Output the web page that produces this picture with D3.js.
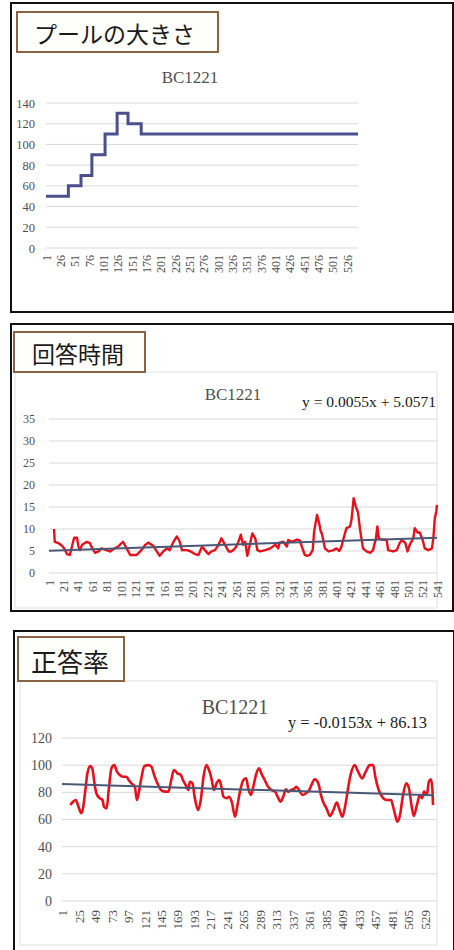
<!DOCTYPE html>
<html><head><meta charset="utf-8">
<script src="https://cdn.jsdelivr.net/npm/d3@7"></script>
<style>body{margin:0;background:#fff}svg{display:block}</style>
</head><body>
<svg id="c" width="454" height="950"></svg>
<script>
// ---------- DATA ----------
// Panel 1: プールの大きさ (step series: index where value starts, value)
const poolStart = [1, 40, 62, 81, 104, 125, 144, 167, 545];
const poolSize  = [50, 60, 70, 90, 110, 130, 120, 110, 110];
const poolXTicks = [1,26,51,76,101,126,151,176,201,226,251,276,301,326,351,376,401,426,451,476,501,526];
const poolYTicks = [0,20,40,60,80,100,120,140];

// Panel 2: 回答時間
const timeIdx = [8,9,14,19,22,26,30,36,40,42,44,47,51,53,58,60,65,70,74,81,86,90,97,104,109,114,123,128,135,139,146,151,155,160,165,169,174,179,183,186,193,197,204,209,214,218,223,227,232,237,241,246,251,255,260,264,268,271,274,277,281,284,288,291,295,302,309,316,320,322,327,332,334,339,346,350,355,357,360,364,368,370,374,377,379,381,385,390,397,401,405,408,411,415,420,422,425,428,431,434,438,443,448,452,456,458,460,464,471,473,480,485,489,492,497,500,503,508,510,514,517,521,524,529,534,536,538,540,541];
const timeVal = [10.0,7.1,6.8,6.2,5.6,4.3,4.1,8.0,8.0,6.0,5.2,6.4,6.8,7.1,6.8,6.0,4.6,4.9,5.6,5.2,4.9,5.4,6.0,7.1,5.6,4.1,4.1,4.9,6.4,6.9,6.2,4.9,3.9,4.9,5.6,5.2,7.0,8.3,7.1,5.2,5.2,5.0,4.3,4.1,6.0,5.2,4.3,4.9,5.2,6.4,7.9,6.4,4.9,4.9,5.6,6.8,8.7,6.4,7.1,3.9,6.8,9.0,7.9,5.2,4.9,5.2,5.6,6.4,5.6,6.9,7.1,6.0,7.5,7.1,7.6,7.4,5.0,4.1,3.9,4.1,5.2,9.4,13.2,11.3,9.6,8.8,5.6,4.9,5.2,5.6,5.0,6.0,7.9,10.2,10.6,12.1,17.0,15.1,13.8,9.8,5.6,4.9,4.6,5.2,7.9,10.6,7.9,7.6,7.5,5.2,4.9,5.2,6.8,7.5,6.8,4.9,6.4,7.9,10.2,9.2,9.2,7.5,5.6,5.2,5.6,8.1,12.5,14.0,15.5];
const timeXTicks = [1,21,41,61,81,101,121,141,161,181,201,221,241,261,281,301,321,341,361,381,401,421,441,461,481,501,521,541];
const timeYTicks = [0,5,10,15,20,25,30,35];
const timeTrend = [0.0055, 5.0571];

// Panel 3: 正答率
const accIdx = [13,17,21,25,29,32,35,38,42,45,49,51,56,60,62,66,69,73,77,81,85,90,95,98,102,107,110,112,116,121,127,131,136,141,145,151,156,160,164,169,174,177,181,185,187,191,194,199,203,207,211,215,219,222,226,230,233,236,241,244,248,253,256,260,265,269,272,276,280,284,288,291,296,301,306,311,316,319,323,327,330,335,340,342,346,351,356,361,364,369,374,378,381,386,391,396,401,405,409,413,417,421,427,432,438,443,449,454,457,462,467,473,480,483,486,489,493,497,502,506,510,513,517,522,525,528,532,535,538,540,541];
const accVal = [70.7,73.1,74.4,69.4,64.6,69.4,81.7,94,99.4,97.7,84.1,79.3,75.6,74.4,69.4,68.2,81.7,97.7,100,95.2,92.8,91.5,91.5,89.1,86.6,84.1,74.4,78,89.1,99.4,100,98.9,91.5,85.4,81.7,80.5,80.5,89.1,96.4,94,92.8,89.1,85.4,81.7,87.8,86.6,76.8,67,74.4,91.5,100,96.4,89.1,81.7,86.6,89.1,84.1,76.8,75.6,76.8,73.1,62.1,69.4,80.5,89.1,90.3,83,78,85.4,94,97.7,94,89.1,84.1,81.7,80.5,75.6,73.1,76.8,82.2,80.5,81.7,83,84.1,81.7,78,79.3,81.7,85.4,89.6,86.6,78,73.1,68.2,62.6,67,72.4,67,62.1,69.4,81.7,92.8,100,95.2,90.3,95.2,100,100,91.5,81.7,76.8,74.4,74.4,69.4,63.3,58.4,63.3,76.8,86.6,83,69.4,62.6,69.4,78,75.6,80.5,78,87.8,89.6,83,70.7];
const accXTicks = [1,25,49,73,97,121,145,169,193,217,241,265,289,313,337,361,385,409,433,457,481,505,529];
const accYTicks = [0,20,40,60,80,100,120];
const accTrend = [-0.0153, 86.13];

// ---------- DRAWING ----------
const svg = d3.select('#c');
const SERIF = '"Liberation Serif","DejaVu Serif",serif';
const CJK = '"Noto Sans CJK JP","Noto Sans CJK SC",sans-serif';
const GRAY = '#505050';

function panel(cfg) {
  const g = svg.append('g');
  g.append('rect').attr('x', cfg.frame[0]).attr('y', cfg.frame[1]).attr('width', cfg.frame[2]).attr('height', cfg.frame[3])
    .attr('fill', 'none').attr('stroke', '#111').attr('stroke-width', 2);
  if (cfg.inner) {
    g.append('rect').attr('x', cfg.inner[0]).attr('y', cfg.inner[1]).attr('width', cfg.inner[2]).attr('height', cfg.inner[3])
      .attr('fill', '#fff').attr('stroke', '#e0e0e0').attr('stroke-width', 1);
  }
  // title box
  g.append('rect').attr('x', cfg.tbox[0]).attr('y', cfg.tbox[1]).attr('width', cfg.tbox[2]).attr('height', cfg.tbox[3])
    .attr('fill', '#fefefc').attr('stroke', '#8a6244').attr('stroke-width', 2);
  g.append('text').attr('x', cfg.tText[0]).attr('y', cfg.tText[1]).attr('dominant-baseline', 'central')
    .attr('font-family', CJK).attr('font-size', cfg.tText[2]).attr('fill', '#1a1a1a').text(cfg.title);
  // chart title
  g.append('text').attr('x', cfg.ct[0]).attr('y', cfg.ct[1]).attr('text-anchor', 'middle').attr('dominant-baseline', 'central')
    .attr('font-family', SERIF).attr('font-size', cfg.ct[2]).attr('fill', GRAY).text('BC1221');

  const x = d3.scaleLinear().domain(cfg.xDomain).range(cfg.xRange);
  const y = d3.scaleLinear().domain([0, d3.max(cfg.yTicks)]).range(cfg.yRange);

  g.append('g').selectAll('line').data(cfg.yTicks).join('line')
    .attr('x1', cfg.gridX[0]).attr('x2', cfg.gridX[1])
    .attr('y1', d => y(d)).attr('y2', d => y(d))
    .attr('stroke', '#d9d9d9').attr('stroke-width', 1);

  const ya = g.append('g').attr('transform', `translate(${cfg.yLabelX},0)`)
    .call(d3.axisLeft(y).tickValues(cfg.yTicks).tickSize(0).tickPadding(0).tickFormat(d3.format('d')));
  ya.select('.domain').remove();
  ya.selectAll('text').attr('font-family', SERIF).attr('font-size', cfg.yFont).attr('fill', GRAY);

  const xa = g.append('g').attr('transform', `translate(0,${cfg.xLabelY})`)
    .call(d3.axisBottom(x).tickValues(cfg.xTicks).tickSize(0).tickPadding(0).tickFormat(d3.format('d')));
  xa.select('.domain').remove();
  xa.selectAll('text').attr('x', 0).attr('y', 0).attr('dy', '0.35em')
    .attr('transform', 'rotate(-90)').attr('text-anchor', 'end')
    .attr('font-family', SERIF).attr('font-size', cfg.xFont).attr('fill', GRAY);

  return { g, x, y };
}

// Panel 1
{
  const p = panel({
    frame: [11, 3, 442, 309], inner: null,
    tbox: [17, 12, 201, 40], tText: [34, 33, 23], title: 'プールの大きさ',
    ct: [190, 77, 17],
    xDomain: [1, 545], xRange: [46, 358], gridX: [46, 358],
    yTicks: poolYTicks, yRange: [248, 103], yLabelX: 35, yFont: 12.5,
    xTicks: poolXTicks, xLabelY: 255, xFont: 12
  });
  const pts = poolStart.map((s, i) => [s, poolSize[i]]);
  p.g.append('path').datum(pts)
    .attr('d', d3.line().x(d => p.x(d[0])).y(d => p.y(d[1])).curve(d3.curveStepAfter))
    .attr('fill', 'none').attr('stroke', '#4b4f8c').attr('stroke-width', 3);
}

// Panel 2
{
  const p = panel({
    frame: [11, 324, 442, 287], inner: [15, 372, 422, 236],
    tbox: [14, 332, 131, 40], tText: [32, 353, 23], title: '回答時間',
    ct: [233, 394, 17],
    xDomain: [1, 541], xRange: [49, 437], gridX: [49, 437],
    yTicks: timeYTicks, yRange: [573, 419], yLabelX: 35, yFont: 12,
    xTicks: timeXTicks, xLabelY: 580, xFont: 12
  });
  p.g.append('text').attr('x', 302).attr('y', 402).attr('dominant-baseline', 'central')
    .attr('font-family', SERIF).attr('font-size', 14).attr('fill', '#1a1a1a')
    .attr('textLength', 134).attr('lengthAdjust', 'spacingAndGlyphs')
    .text('y = 0.0055x + 5.0571');
  const pts = timeIdx.map((s, i) => [s, timeVal[i]]);
  p.g.append('path').datum(pts)
    .attr('d', d3.line().x(d => p.x(d[0])).y(d => p.y(d[1])))
    .attr('fill', 'none').attr('stroke', '#e8111a').attr('stroke-width', 2.4).attr('stroke-linejoin', 'round');
  const tr = [1, 541].map(v => [v, timeTrend[0] * v + timeTrend[1]]);
  p.g.append('path').datum(tr)
    .attr('d', d3.line().x(d => p.x(d[0])).y(d => p.y(d[1])))
    .attr('stroke', '#4a5878').attr('stroke-width', 2);
}

// Panel 3
{
  const p = panel({
    frame: [14, 631, 440, 330], inner: [20, 681, 417, 264],
    tbox: [18, 637, 106, 44], tText: [31, 660, 26], title: '正答率',
    ct: [235, 707, 20],
    xDomain: [1, 541], xRange: [62, 433], gridX: [62, 437],
    yTicks: accYTicks, yRange: [901, 738], yLabelX: 52, yFont: 14,
    xTicks: accXTicks, xLabelY: 910, xFont: 13
  });
  p.g.append('text').attr('x', 288).attr('y', 722).attr('dominant-baseline', 'central')
    .attr('font-family', SERIF).attr('font-size', 16).attr('fill', '#1a1a1a')
    .attr('textLength', 139).attr('lengthAdjust', 'spacingAndGlyphs')
    .text('y = -0.0153x + 86.13');
  const pts = accIdx.map((s, i) => [s, accVal[i]]);
  p.g.append('path').datum(pts)
    .attr('d', d3.line().x(d => p.x(d[0])).y(d => p.y(d[1])).curve(d3.curveMonotoneX))
    .attr('fill', 'none').attr('stroke', '#e8111a').attr('stroke-width', 2.6).attr('stroke-linejoin', 'round');
  const tr = [1, 541].map(v => [v, accTrend[0] * v + accTrend[1]]);
  p.g.append('path').datum(tr)
    .attr('d', d3.line().x(d => p.x(d[0])).y(d => p.y(d[1])))
    .attr('stroke', '#4a5878').attr('stroke-width', 2);
}
</script>
</body></html>
